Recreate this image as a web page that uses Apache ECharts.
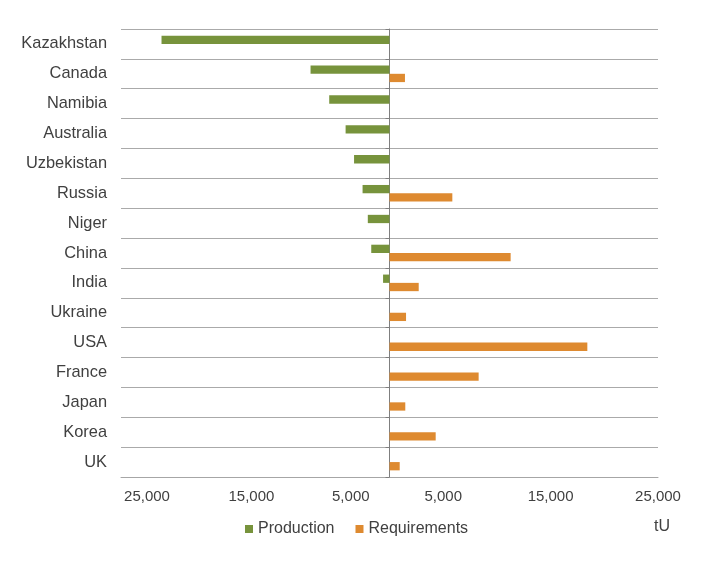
<!DOCTYPE html>
<html>
<head>
<meta charset="utf-8">
<script src="https://cdn.jsdelivr.net/npm/echarts@6/dist/echarts.min.js"></script>
<style>
  html, body { margin: 0; padding: 0; background: #ffffff; }
  #chart { width: 722px; height: 571px; }
</style>
</head>
<body>
<div id="chart"></div>
<script>
// ---- data (tU) ----
const categories = ['Kazakhstan', 'Canada', 'Namibia', 'Australia', 'Uzbekistan', 'Russia', 'Niger', 'China', 'India', 'Ukraine', 'USA', 'France', 'Japan', 'Korea', 'UK'];
const production = [21227, 7351, 5613, 4087, 3300, 2508, 2020, 1700, 600, 0, 0, 0, 0, 0, 0];
const requirements = [0, 1440, 0, 0, 0, 5850, 0, 11280, 2720, 1540, 18420, 8300, 1470, 4300, 950];
const tickLabels = ['25,000', '15,000', '5,000', '5,000', '15,000', '25,000'];
const tickValues = [-25000, -15000, -5000, 5000, 15000, 25000];
const unitLabel = 'tU';

const FONT = "'Liberation Sans', Arial, sans-serif";
const TEXT = '#404040';
const GREEN = '#77933C';
const ORANGE = '#DE8A30';

const chart = echarts.init(document.getElementById('chart'), null, { renderer: 'canvas' });

const richBase = { fontSize: 15, fontFamily: FONT, color: TEXT };
const option = {
  animation: false,
  backgroundColor: '#ffffff',
  grid: { left: 121, right: 64, top: 29, bottom: 94, containLabel: false },
  legend: {
    data: ['Production', 'Requirements'],
    left: 240,
    top: 516,
    icon: 'rect',
    itemWidth: 8,
    itemHeight: 8,
    itemGap: 21,
    textStyle: { fontSize: 16, fontFamily: FONT, color: TEXT }
  },
  graphic: [{
    type: 'text',
    left: 654,
    top: 519,
    style: { text: unitLabel, fontSize: 16, fontFamily: FONT, fill: TEXT }
  }],
  xAxis: {
    type: 'value',
    min: -25000,
    max: 25000,
    interval: 5000,
    axisLine: { show: true, onZero: false, lineStyle: { color: '#a6a6a6', width: 1 } },
    axisTick: { show: false },
    splitLine: { show: false },
    axisLabel: {
      margin: 12,
      fontSize: 15,
      fontFamily: FONT,
      color: TEXT,
      formatter: function (v) {
        const i = tickValues.indexOf(v);
        if (i < 0) return '';
        if (v === -25000) return '{a|' + tickLabels[i] + '}';
        if (v === -15000) return '{b|' + tickLabels[i] + '}';
        if (v === -5000) return '{c|' + tickLabels[i] + '}';
        return tickLabels[i];
      },
      rich: {
        a: Object.assign({ padding: [0, 0, 0, 52] }, richBase),
        b: Object.assign({ padding: [0, 0, 0, 46] }, richBase),
        c: Object.assign({ padding: [0, 0, 0, 30] }, richBase)
      }
    }
  },
  yAxis: [{
    type: 'category',
    data: categories,
    inverse: true,
    position: 'left',
    axisLine: { show: false, onZero: false },
    axisTick: { show: false },
    splitLine: { show: true, lineStyle: { color: '#aaaaaa', width: 1 } },
    axisLabel: { margin: 14, fontSize: 16.4, fontFamily: FONT, color: TEXT }
  }, {
    type: 'category',
    data: categories,
    inverse: true,
    position: 'left',
    axisLine: { show: true, onZero: true, lineStyle: { color: '#7f7f7f', width: 1 } },
    axisTick: { show: true, length: 4, lineStyle: { color: '#7f7f7f' } },
    axisLabel: { show: false },
    splitLine: { show: false }
  }],
  series: [{
    name: 'Production',
    type: 'bar',
    yAxisIndex: 0,
    data: production.map(v => -v),
    barWidth: 8.3,
    barGap: '0%',
    itemStyle: { color: GREEN }
  }, {
    name: 'Requirements',
    type: 'bar',
    yAxisIndex: 0,
    data: requirements,
    barWidth: 8.3,
    barGap: '0%',
    itemStyle: { color: ORANGE }
  }]
};
chart.setOption(option);
</script>
</body>
</html>
